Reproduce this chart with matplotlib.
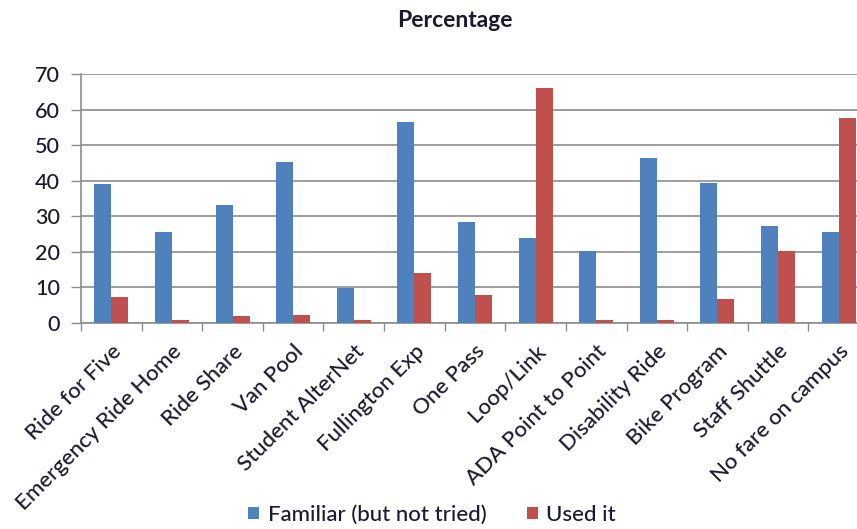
import numpy as np
import matplotlib
matplotlib.use("Agg")
import matplotlib.pyplot as plt

categories = ["Ride for Five", "Emergency Ride Home", "Ride Share", "Van Pool",
              "Student AlterNet", "Fullington Exp", "One Pass", "Loop/Link",
              "ADA Point to Point", "Disability Ride", "Bike Program",
              "Staff Shuttle", "No fare on campus"]
familiar = [39.2, 25.5, 33.3, 45.4, 9.8, 56.5, 28.3, 23.8, 20.3, 46.5, 39.3, 27.3, 25.6]
used = [7.3, 0.75, 1.9, 2.3, 0.8, 14.0, 7.9, 66.3, 0.75, 0.75, 6.8, 20.3, 57.6]

blue = "#4F81BD"
red = "#C0504D"
txt = "#1a1a2e"

plt.rcParams['font.family'] = ['Lato', 'DejaVu Sans']
plt.rcParams['font.weight'] = 'medium'

fig = plt.figure(figsize=(8.57, 5.29), dpi=100)
ax = fig.add_axes([81/857, (529-323)/529, 788/857, 248.6/529])

x = np.arange(len(categories))
w = 0.28
ax.bar(x - w/2, familiar, w, color=blue, label="Familiar (but not tried)", zorder=3)
ax.bar(x + w/2, used, w, color=red, label="Used it", zorder=3)

ax.set_xlim(-0.5, len(categories) - 0.5)
ax.set_ylim(0, 70)
ax.set_yticks(range(0, 71, 10))
ax.yaxis.grid(True, color="#8c8c8c", linewidth=1.2, zorder=0)
ax.tick_params(axis='y', length=7, width=1, color="#8c8c8c", labelsize=15.5,
               labelcolor=txt, pad=8)

ax.set_xticks(x)
ax.set_xticklabels(categories, rotation=45, ha='right', rotation_mode='anchor',
                   fontsize=16, color=txt)
ax.set_xticks(np.arange(-0.5, len(categories)), minor=True)
ax.tick_params(axis='x', which='major', length=0, pad=13)
ax.tick_params(axis='x', which='minor', length=6, width=1, color="#8c8c8c")

for s in ['top', 'right']:
    ax.spines[s].set_visible(False)
ax.spines['left'].set_color("#8c8c8c")
ax.spines['bottom'].set_color("#8c8c8c")
ax.spines['left'].set_linewidth(1.2)
ax.spines['bottom'].set_linewidth(1.2)

fig.text(455/857, 1 - 27/529, "Percentage", ha='center', va='baseline',
         fontsize=16.5, fontweight='bold', color=txt)

fig.legend(loc='center', bbox_to_anchor=(432/857, 1 - 515/529), ncol=2,
           frameon=False, fontsize=16, handlelength=0.5, handleheight=0.5,
           handletextpad=0.4, columnspacing=1.8, labelcolor=txt)

fig.savefig("out.png", dpi=100)
